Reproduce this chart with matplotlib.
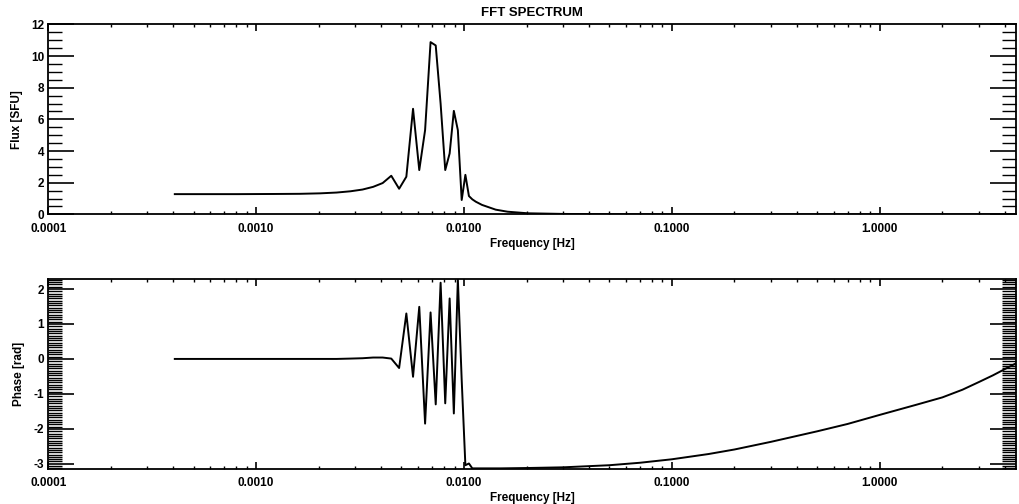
import numpy as np
import matplotlib
matplotlib.use('Agg')
import matplotlib.pyplot as plt
from matplotlib.ticker import LogLocator, MultipleLocator, FuncFormatter, NullFormatter

plt.rcParams['font.family'] = ['Liberation Sans', 'DejaVu Sans']
plt.rcParams['font.weight'] = 'bold'
plt.rcParams['axes.unicode_minus'] = False

# frequency resolution of the FFT (Hz)
df = 4.06e-4
# harmonics 1..27
k = np.arange(1, 28)
amp_low = [1.28, 1.28, 1.29, 1.30, 1.33, 1.38, 1.46, 1.57, 1.74, 1.98,
           2.44, 1.62, 2.38, 6.67, 2.80, 5.32, 10.88, 10.67, 7.00, 2.80,
           3.85, 6.54, 5.32, 0.91, 2.50, 1.16, 0.95]
phase_low = [0.00, 0.00, 0.00, 0.00, 0.00, 0.00, 0.01, 0.02, 0.04, 0.04,
             0.01, -0.26, 1.30, -0.51, 1.49, -1.85, 1.33, -1.30, 2.18, -1.27,
             1.73, -1.56, 2.28, -0.60, -3.04, -2.99, -3.13]

# tail of the spectrum (Hz)
freq_tail_amp = [0.0114, 0.0122, 0.0142, 0.0162, 0.0203, 0.03, 0.05, 0.1, 1.0, 4.54]
amp_tail = [0.80, 0.60, 0.30, 0.17, 0.07, 0.03, 0.012, 0.005, 0.002, 0.001]
freq_tail_ph = [0.012, 0.015, 0.02, 0.03, 0.05, 0.07, 0.1, 0.15, 0.2, 0.3,
                0.5, 0.7, 1.0, 1.5, 2.0, 2.5, 3.0, 3.5, 4.0, 4.54]
phase_tail = [-3.13, -3.13, -3.12, -3.10, -3.04, -2.97, -2.87, -2.72, -2.59, -2.37,
              -2.07, -1.86, -1.60, -1.31, -1.10, -0.88, -0.66, -0.47, -0.29, -0.12]

f_amp = np.concatenate([k * df, freq_tail_amp])
a_all = np.concatenate([amp_low, amp_tail])
f_ph = np.concatenate([k * df, freq_tail_ph])
p_all = np.concatenate([phase_low, phase_tail])

fig = plt.figure(figsize=(10.19, 5.04), dpi=100)
ax1 = fig.add_axes([0.0474, 0.5746, 0.950, 0.377])
ax2 = fig.add_axes([0.0474, 0.070, 0.950, 0.376])

def style(ax):
    ax.set_xscale('log')
    ax.set_xlim(1e-4, 4.54)
    for s in ax.spines.values():
        s.set_linewidth(1.3)
    ax.xaxis.set_major_locator(LogLocator(base=10, numticks=10))
    ax.xaxis.set_minor_locator(LogLocator(base=10, subs=np.arange(2, 10), numticks=20))
    ax.xaxis.set_major_formatter(FuncFormatter(lambda v, p: '%.4f' % v))
    ax.xaxis.set_minor_formatter(NullFormatter())
    ax.tick_params(axis='x', which='major', direction='in', length=5, width=1.2,
                   top=True, bottom=True, labelsize=8.5, pad=6)
    ax.tick_params(axis='x', which='minor', direction='in', length=2.5, width=1,
                   top=True, bottom=True)
    ax.tick_params(axis='y', which='major', direction='in', length=19, width=1.2,
                   left=True, right=True, labelsize=8.5, pad=3)
    ax.tick_params(axis='y', which='minor', direction='in', length=10, width=1,
                   left=True, right=True)
    ax.set_xlabel('Frequency [Hz]', fontsize=8.5, fontweight='bold', labelpad=2)

ax1.plot(f_amp, a_all, color='black', lw=1.4)
style(ax1)
ax1.set_ylim(0, 12)
ax1.yaxis.set_major_locator(MultipleLocator(2))
ax1.yaxis.set_minor_locator(MultipleLocator(0.5))
ax1.set_ylabel('Flux [SFU]', fontsize=8.5, fontweight='bold', labelpad=6)
ax1.set_title('FFT SPECTRUM', fontsize=9.5, fontweight='bold', pad=6)

ax2.plot(f_ph, p_all, color='black', lw=1.4)
style(ax2)
ax2.set_ylim(-3.14, 2.28)
ax2.yaxis.set_major_locator(MultipleLocator(1))
ax2.yaxis.set_minor_locator(MultipleLocator(1 / 15))
ax2.set_ylabel('Phase [rad]', fontsize=8.5, fontweight='bold', labelpad=6)

fig.savefig('out.png', dpi=100)
